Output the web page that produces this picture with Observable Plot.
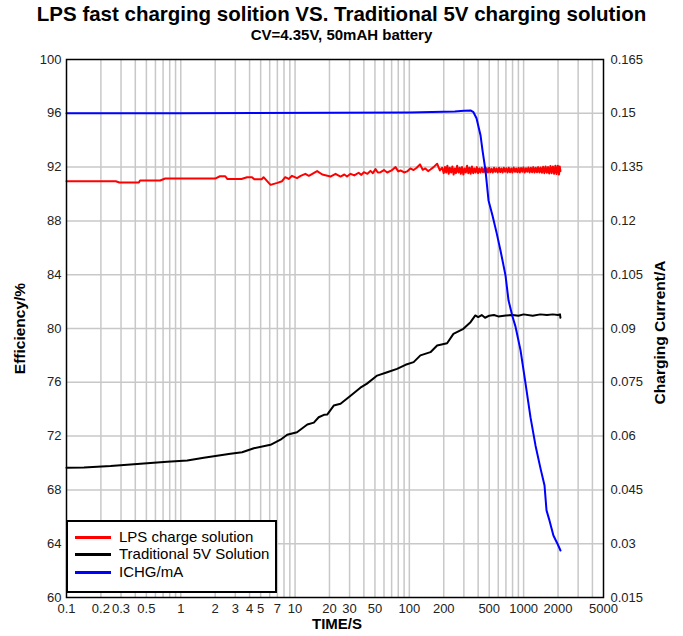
<!DOCTYPE html>
<html>
<head>
<meta charset="utf-8">
<script src="https://cdn.jsdelivr.net/npm/d3@7"></script>
<script src="https://cdn.jsdelivr.net/npm/@observablehq/plot@0.6"></script>
<style>
  body { margin: 0; background: #fff; }
  #wrap { position: relative; width: 683px; height: 636px; font-family: "Liberation Sans", Arial, sans-serif; color: #000; }
  #title { height: 50px; text-align: center; }
  #t1 { font-weight: bold; font-size: 20.5px; line-height: 24px; padding-top: 2px; }
  #t2 { font-weight: bold; font-size: 15px; line-height: 18px; }
  #legend { position: absolute; left: 66px; top: 520px; width: 207px; height: 69px; border: 2px solid #000; background: #fff; }
  .sw { position: absolute; left: 7px; width: 36px; height: 3px; }
  .lt { position: absolute; left: 51px; font-size: 15px; line-height: 18px; white-space: nowrap; }
</style>
</head>
<body>
<div id="wrap">
  <div id="title">
    <div id="t1">LPS fast charging solition VS. Traditional 5V charging solution</div>
    <div id="t2">CV=4.35V, 50mAH battery</div>
  </div>
  <div id="chart"></div>
  <div id="legend"></div>
</div>
<script>
// ---- tick labels / axes ----
const xTickValues = [0.1, 0.2, 0.3, 0.5, 1, 2, 3, 4, 5, 7, 10, 20, 30, 50, 100, 200, 500, 1000, 2000, 5000];
const yTickValues = [60, 64, 68, 72, 76, 80, 84, 88, 92, 96, 100];
const rightTickLabels = ["0.015", "0.03", "0.045", "0.06", "0.075", "0.09", "0.105", "0.12", "0.135", "0.15", "0.165"];
const seriesNames = ["LPS charge solution", "Traditional 5V Solution", "ICHG/mA"];
const seriesColors = ["#ff0000", "#000000", "#0000ff"];

// ---- LPS charge solution: time (s), efficiency (%) ----
const lpsTime = [0.1, 0.27, 0.29, 0.43, 0.44, 0.66, 0.73, 2.0, 2.2, 2.45, 2.55, 3.4, 3.8, 4.2, 4.4, 5.1, 5.3, 6.1, 7.0, 7.7, 8.2, 8.8, 9.4, 10.4, 11.2, 12.3, 13.2, 15.6, 17.3, 20.4, 22.6, 25,
  27, 28.5, 30.6, 33, 36, 38, 40, 43, 45.7, 48, 50.6, 53, 56, 60, 64, 70, 75.7, 80, 83.7, 90, 95.7, 102, 109, 116, 124, 131, 138, 146, 153, 163, 175, 185, 194,
  200, 205, 210, 215, 221, 226, 232, 238, 244, 250,
  256, 262, 269, 276, 282, 289, 297, 304, 312, 320,
  328, 336, 344, 353, 362, 371, 380, 390, 399, 409,
  419, 430, 441, 452, 463, 475, 487, 499, 511, 524,
  537, 551, 564, 579, 593, 608, 623, 639, 655, 671,
  688, 705, 723, 741, 760, 779, 798, 818, 839, 860,
  881, 903, 926, 949, 973, 997, 1022, 1048, 1074, 1101,
  1128, 1157, 1186, 1215, 1246, 1277, 1309, 1341, 1375, 1409,
  1445, 1481, 1518, 1556, 1595, 1634, 1675, 1717, 1760, 1804,
  1849, 1896, 1943, 1992, 2041, 2070, 2100];
const lpsEff = [90.95, 90.95, 90.86, 90.86, 91.0, 91.0, 91.15, 91.15, 91.32, 91.32, 91.12, 91.12, 91.25, 91.25, 91.1, 91.1, 91.25, 90.68, 90.83, 90.95, 91.25, 91.12, 91.35, 91.18, 91.35, 91.5, 91.35, 91.7, 91.45, 91.3, 91.5, 91.3,
  91.45, 91.3, 91.5, 91.38, 91.58, 91.42, 91.62, 91.5, 91.72, 91.55, 91.85, 91.6, 91.62, 91.78, 91.6, 91.75, 92.0, 91.68, 91.75, 91.6, 91.68, 91.9, 91.78, 91.95, 92.2, 91.8, 91.9, 91.7, 91.82, 92.0, 92.25, 91.75, 91.95,
  91.55, 92.0, 91.6, 92.1, 91.5, 91.95, 91.6, 92.05, 91.45, 91.9,
  91.55, 92.1, 91.6, 91.95, 91.5, 92.0, 91.45, 91.9, 91.6, 92.1,
  91.55, 91.95, 91.5, 92.05, 91.55, 91.9, 91.6, 92.0, 91.55, 91.9,
  91.6, 91.95, 91.62, 91.9, 91.58, 91.92, 91.6, 91.95, 91.62, 91.88,
  91.6, 91.95, 91.65, 91.9, 91.6, 91.95, 91.63, 91.9, 91.6, 91.95,
  91.65, 91.92, 91.6, 91.95, 91.62, 91.9, 91.6, 91.97, 91.65, 91.9,
  91.62, 91.95, 91.6, 91.93, 91.65, 91.98, 91.6, 91.92, 91.65, 91.97,
  91.6, 91.95, 91.62, 92.0, 91.6, 91.95, 91.62, 92.0, 91.6, 91.97,
  91.58, 92.02, 91.55, 92.05, 91.58, 92.0, 91.52, 92.08, 91.55, 92.05,
  91.5, 92.1, 91.48, 92.1, 91.45, 92.05, 91.7];

// ---- Traditional 5V Solution: time (s), efficiency (%) ----
const tradTime = [0.1, 0.142, 0.243, 0.34, 0.508, 0.76, 1.14, 1.59, 2.08, 2.72, 3.44, 4.36, 6.1, 7.46, 8.53, 10.4, 12.8, 14.6, 16.1, 17.9, 19.1, 21.8, 25, 30.6, 37.3, 42.6, 52.3, 64, 78, 92.6, 109, 125, 153, 175, 214, 243, 297, 343, 378,
  400, 430, 460, 500, 550, 600, 700, 800, 900, 1000, 1200, 1400, 1600, 1800, 2000, 2080, 2100];
const tradEff = [69.64, 69.66, 69.77, 69.87, 69.99, 70.09, 70.19, 70.39, 70.54, 70.68, 70.8, 71.1, 71.35, 71.73, 72.1, 72.29, 72.86, 73.0, 73.4, 73.58, 73.6, 74.27, 74.4, 75.0, 75.6, 75.9, 76.5, 76.75, 77.0, 77.3, 77.5, 78.0, 78.24, 78.74, 78.9, 79.6, 79.98, 80.47, 80.97,
  80.85, 81.0, 80.8, 80.95, 81.0, 80.9, 80.97, 81.0, 80.95, 81.05, 80.95, 81.05, 81.0, 81.05, 81.0, 81.05, 80.8];

// ---- ICHG: time (s), charging current (A) ----
const ichgTime = [0.1, 1, 100, 250, 300, 343, 364, 387, 420, 437, 464, 493, 534, 579, 628, 694, 738, 800, 848, 883, 940, 1039, 1149, 1270, 1405, 1524, 1586, 1683, 1823, 1977, 2102];
const ichgCurrent = [0.15, 0.15, 0.1502, 0.1505, 0.1507, 0.1508, 0.1503, 0.1486, 0.1438, 0.1396, 0.134, 0.1257, 0.1215, 0.1168, 0.1117, 0.1048, 0.0978, 0.0933, 0.0906, 0.088, 0.0839, 0.0747, 0.0652, 0.0574, 0.051, 0.0462, 0.0393, 0.0365, 0.0323, 0.03, 0.0281];

// right axis mapping: efficiency 60..100  <->  current 0.015..0.165
const curToEff = c => 60 + (c - 0.015) / (0.15 / 40);

const lps = lpsTime.map((t, i) => ({t, v: lpsEff[i]}));
const trad = tradTime.map((t, i) => ({t, v: tradEff[i]}));
const ichg = ichgTime.map((t, i) => ({t, c: ichgCurrent[i]}));

const xGrid = d3.range(-1, 4).flatMap(e => d3.range(1, 10).map(m => m * Math.pow(10, e))).filter(v => v > 0.1 * 1.01 && v < 5000 * 0.99);
const yGrid = yTickValues.filter(v => v > 60 && v < 100);

const chart = Plot.plot({
  width: 683,
  height: 586,
  marginTop: 9,
  marginBottom: 39,
  marginLeft: 66,
  marginRight: 80,
  style: {fontFamily: "'Liberation Sans', Arial, sans-serif", fontSize: "13px", color: "#222", background: "#fff"},
  x: {type: "log", domain: [0.1, 5000], axis: null},
  y: {domain: [60, 100], axis: null},
  marks: [
    Plot.ruleX(xGrid, {stroke: "#c8c8c8", strokeWidth: 1.5}),
    Plot.ruleY(yGrid, {stroke: "#c8c8c8", strokeWidth: 1.5}),
    Plot.line(lps, {x: "t", y: "v", stroke: seriesColors[0], strokeWidth: 2}),
    Plot.line(trad, {x: "t", y: "v", stroke: seriesColors[1], strokeWidth: 2}),
    Plot.line(ichg, {x: "t", y: d => curToEff(d.c), stroke: seriesColors[2], strokeWidth: 2}),
    Plot.frame({stroke: "#000", strokeWidth: 1.5}),
    Plot.text(xTickValues, {x: d => d, frameAnchor: "bottom", dy: 15.5, text: d => String(d), fontSize: 13, fill: "#222"}),
    Plot.axisY({anchor: "left", ticks: yTickValues, tickFormat: d => String(d), tickSize: 0, tickPadding: 5, label: null, fontSize: 13}),
    Plot.axisY({anchor: "right", ticks: yTickValues, tickFormat: d => rightTickLabels[yTickValues.indexOf(d)], tickSize: 0, tickPadding: 7, label: null, fontSize: 13}),
    Plot.text(["Efficiency/%"], {frameAnchor: "left", textAnchor: "middle", dx: -46, rotate: -90, fontWeight: "bold", fontSize: 15.5, fill: "#000"}),
    Plot.text(["Charging Current/A"], {frameAnchor: "right", textAnchor: "middle", dx: 57, dy: 4, rotate: -90, fontWeight: "bold", fontSize: 15.5, fill: "#000"}),
    Plot.text(["TIME/S"], {frameAnchor: "bottom", dx: 2, dy: 31, fontWeight: "bold", fontSize: 15, fill: "#000"})
  ]
});
document.getElementById("chart").appendChild(chart);

// legend
const legend = document.getElementById("legend");
const rowY = [15, 32, 50];
seriesNames.forEach((name, i) => {
  const sw = document.createElement("div");
  sw.className = "sw";
  sw.style.top = (rowY[i] - 1.5) + "px";
  sw.style.background = seriesColors[i];
  legend.appendChild(sw);
  const lt = document.createElement("div");
  lt.className = "lt";
  lt.style.top = (rowY[i] - 9) + "px";
  lt.textContent = name;
  legend.appendChild(lt);
});
</script>
</body>
</html>
